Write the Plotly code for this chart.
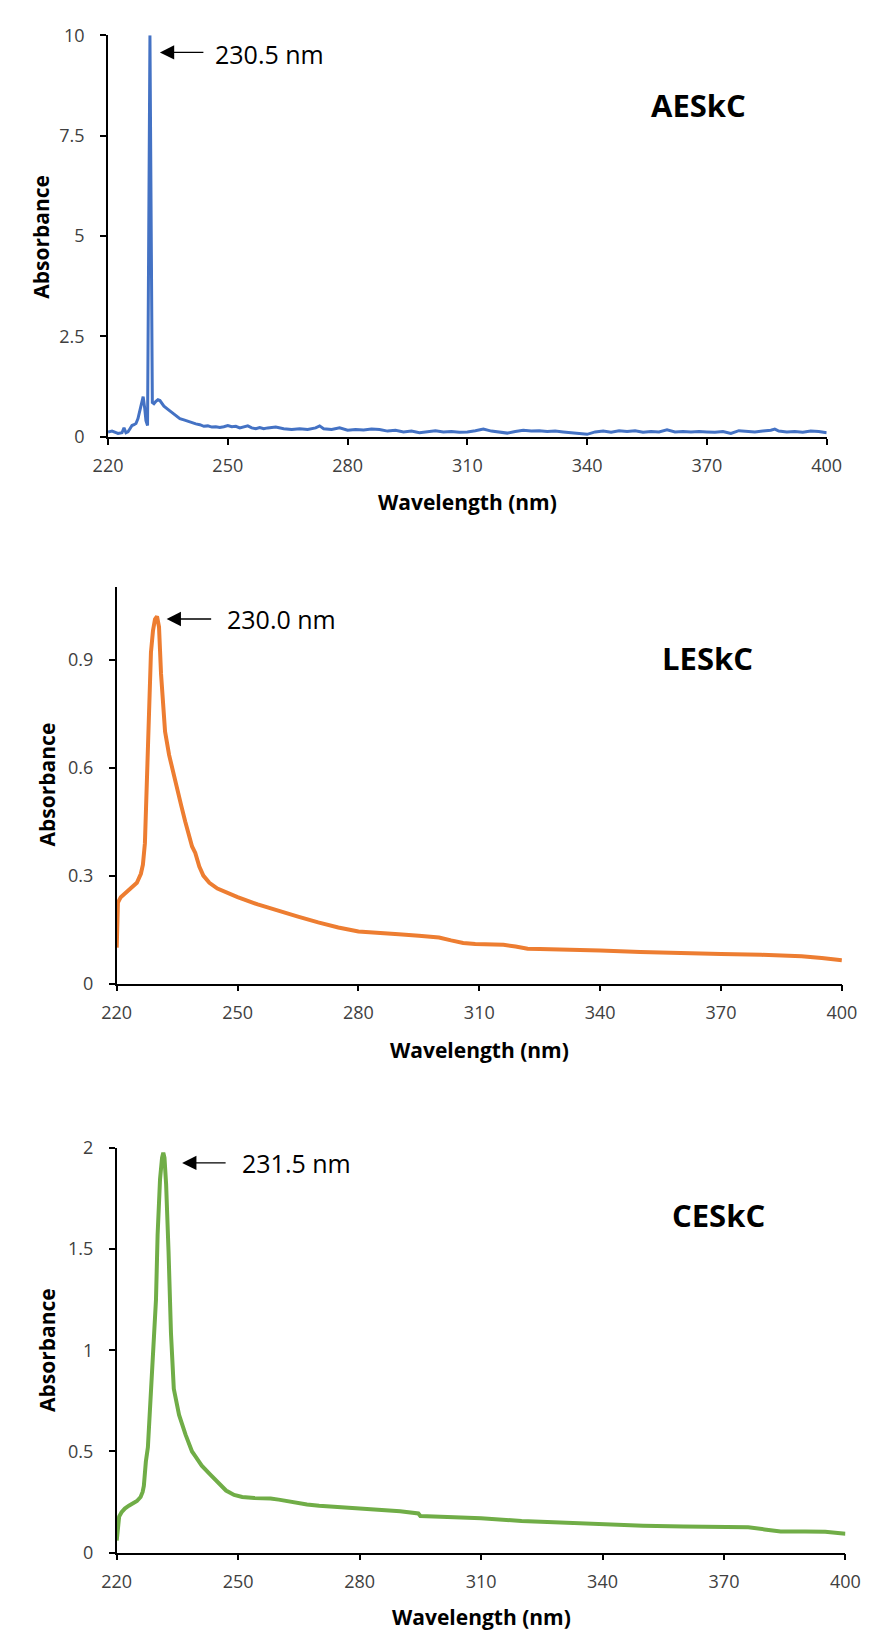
import plotly.graph_objects as go

# ---------------- data ----------------
x_ticks = [220, 250, 280, 310, 340, 370, 400]

wl_aeskc = [220, 221, 222, 222.5, 223.5, 224, 224.5, 225, 225.5, 226, 226.5, 227, 227.5, 228, 228.5,
            228.8, 229.2, 229.5, 229.9, 230.5, 231.1, 231.5, 232, 232.5, 233, 233.5, 234, 235, 236,
            237, 238, 239, 240, 241, 242, 243, 244, 245, 246, 247, 248, 249, 250, 251, 252, 253, 254,
            255, 256, 257, 258, 259, 260, 262, 264, 266, 268, 270, 272, 273, 274, 276, 278, 280, 282,
            284, 286, 288, 290, 292, 294, 296, 298, 300, 302, 304, 306, 308, 310, 312, 314, 316, 318,
            320, 322, 324, 326, 328, 330, 332, 334, 336, 338, 340, 342, 344, 346, 348, 350, 352, 354,
            356, 358, 360, 362, 364, 366, 368, 370, 372, 374, 376, 378, 380, 382, 384, 386, 387, 388,
            390, 392, 394, 396, 398, 400]
abs_aeskc = [0.12, 0.14, 0.10, 0.08, 0.10, 0.22, 0.10, 0.12, 0.20, 0.28, 0.30, 0.33, 0.45, 0.68, 0.95,
             1.00, 0.70, 0.40, 0.28, 10.0, 0.85, 0.82, 0.88, 0.92, 0.90, 0.82, 0.76, 0.68, 0.60,
             0.52, 0.45, 0.42, 0.38, 0.36, 0.32, 0.30, 0.26, 0.27, 0.24, 0.25, 0.23, 0.25, 0.28, 0.25,
             0.26, 0.22, 0.24, 0.27, 0.22, 0.20, 0.23, 0.20, 0.22, 0.24, 0.20, 0.18, 0.20, 0.18, 0.22,
             0.27, 0.20, 0.18, 0.22, 0.16, 0.18, 0.17, 0.19, 0.18, 0.14, 0.16, 0.12, 0.14, 0.10, 0.13,
             0.15, 0.12, 0.13, 0.11, 0.12, 0.15, 0.19, 0.14, 0.12, 0.09, 0.13, 0.16, 0.14, 0.15, 0.13,
             0.14, 0.12, 0.10, 0.07, 0.06, 0.12, 0.14, 0.11, 0.15, 0.13, 0.15, 0.11, 0.13, 0.12, 0.17,
             0.12, 0.13, 0.12, 0.13, 0.12, 0.11, 0.13, 0.08, 0.15, 0.13, 0.12, 0.14, 0.16, 0.19, 0.14,
             0.12, 0.13, 0.11, 0.14, 0.13, 0.10]

wl_leskc = [220, 220.3, 221, 222, 223, 224, 225, 226, 226.5, 227, 227.5, 228, 228.5, 229, 229.5, 230,
            230.5, 231, 231.5, 232, 233, 234, 235, 236, 237, 238, 238.7, 239.5, 240.5, 241.5, 243,
            245, 247, 250, 255, 260, 265, 270, 275, 280, 285, 290, 295, 300, 303, 306, 309, 313, 316,
            319, 322, 325, 330, 340, 350, 360, 370, 380, 385, 390, 395, 400]
abs_leskc = [0.10, 0.225, 0.24, 0.25, 0.258, 0.268, 0.28, 0.305, 0.33, 0.39, 0.57, 0.79, 0.92, 0.98,
             1.012, 1.02, 0.99, 0.86, 0.76, 0.70, 0.635, 0.585, 0.54, 0.495, 0.45, 0.405, 0.381, 0.363,
             0.325, 0.30, 0.28, 0.264, 0.254, 0.24, 0.22, 0.202, 0.186, 0.17, 0.156, 0.145, 0.14, 0.137,
             0.133, 0.128, 0.12, 0.113, 0.11, 0.11, 0.108, 0.103, 0.097, 0.096, 0.095, 0.092, 0.088,
             0.084, 0.082, 0.08, 0.079, 0.076, 0.071, 0.065]

wl_ceskc = [220, 220.3, 220.6, 221.2, 222, 223, 224, 225, 225.9, 226.4, 226.7, 227, 227.2, 227.7, 228.2,
            228.7, 229.2, 229.7, 230.1, 230.7, 231.2, 231.5, 231.8, 232.2, 232.8, 233.4, 234.1, 235.4,
            237, 238.2, 238.6, 239.4, 241, 243, 245, 247, 249, 251, 254, 258, 260, 263, 267, 270, 275,
            280, 285, 290, 294.5, 295, 300, 310, 320, 330, 340, 350, 360, 370, 376, 380, 384, 390,
            395, 400]
abs_ceskc = [0.06, 0.15, 0.178, 0.20, 0.218, 0.232, 0.243, 0.255, 0.275, 0.30, 0.33, 0.42, 0.45, 0.52,
             0.70, 0.874, 1.00, 1.25, 1.57, 1.845, 1.95, 1.975, 1.95, 1.82, 1.488, 1.084, 0.809, 0.68,
             0.583, 0.518, 0.50, 0.477, 0.43, 0.388, 0.345, 0.307, 0.285, 0.275, 0.27, 0.268, 0.262,
             0.25, 0.238, 0.232, 0.226, 0.22, 0.212, 0.205, 0.194, 0.181, 0.178, 0.17, 0.157, 0.149,
             0.14, 0.133, 0.129, 0.127, 0.126, 0.115, 0.105, 0.105, 0.103, 0.094]

panels = [
    dict(name="AESkC", peak="230.5 nm", wl=wl_aeskc, ab=abs_aeskc, color="#4472C4", width=3,
         yticks=[0, 2.5, 5, 7.5, 10], yrange=[0, 10]),
    dict(name="LESkC", peak="230.0 nm", wl=wl_leskc, ab=abs_leskc, color="#ED7D31", width=4,
         yticks=[0, 0.3, 0.6, 0.9], yrange=[0, 1.1]),
    dict(name="CESkC", peak="231.5 nm", wl=wl_ceskc, ab=abs_ceskc, color="#70AD47", width=4,
         yticks=[0, 0.5, 1, 1.5, 2], yrange=[0, 2]),
]

# ---------------- layout geometry (pixels) ----------------
W, H = 882, 1644
geo = [
    dict(x0=96.3, x1=840.3, ytop=22.7, ybot=430, ytitle=(27, 227), xtitle=(468, 496),
         arrow=(150, 40, 195), text=(205, 42), label=(708, 93)),
    dict(x0=105.3, x1=856, ytop=583, ybot=985, ytitle=(33, 783), xtitle=(481, 1052),
         arrow=(157, 615, 203), text=(217, 615), label=(717, 655)),
    dict(x0=105.3, x1=859.7, ytop=1151.5, ybot=1562.5, ytitle=(33, 1357), xtitle=(483, 1628),
         arrow=(173, 1167, 218), text=(233, 1167), label=(728, 1220)),
]

FONT = "Open Sans"
fig = go.Figure()
annotations = []
layout = dict(width=W, height=H, margin=dict(l=0, r=0, t=0, b=0),
              paper_bgcolor="white", plot_bgcolor="white", showlegend=False)

for i, (p, g) in enumerate(zip(panels, geo)):
    k = "" if i == 0 else str(i + 1)
    fig.add_trace(go.Scatter(x=p["wl"], y=p["ab"], mode="lines",
                             line=dict(color=p["color"], width=p["width"]),
                             xaxis="x" + k, yaxis="y" + k))
    common = dict(showline=True, linecolor="black", linewidth=1.6, ticks="outside", ticklen=6,
                  tickwidth=1.6, tickcolor="black", showgrid=False, zeroline=False,
                  tickfont=dict(family=FONT, size=18, color="#404040"))
    layout["xaxis" + k] = dict(common, domain=[g["x0"] / W, g["x1"] / W], range=[220, 400],
                               tickvals=x_ticks, anchor="y" + k, ticklabelstandoff=6)
    layout["yaxis" + k] = dict(common, domain=[1 - g["ybot"] / H, 1 - g["ytop"] / H],
                               range=p["yrange"], tickvals=p["yticks"],
                               ticktext=[f"{v:g}" for v in p["yticks"]], anchor="x" + k,
                               ticklabelstandoff=12)
    # axis titles
    annotations.append(dict(text="<b>Absorbance</b>", textangle=-90, xref="paper", yref="paper",
                            x=g["ytitle"][0] / W, y=1 - g["ytitle"][1] / H, showarrow=False,
                            xanchor="center", yanchor="middle",
                            font=dict(family=FONT, size=21, color="black")))
    annotations.append(dict(text="<b>Wavelength (nm)</b>", xref="paper", yref="paper",
                            x=g["xtitle"][0] / W, y=1 - g["xtitle"][1] / H, showarrow=False,
                            xanchor="center", yanchor="middle",
                            font=dict(family=FONT, size=21, color="black")))
    # arrow
    ax_px, ay_px, tail_px = g["arrow"]
    annotations.append(dict(text="", xref="paper", yref="paper", x=ax_px / W, y=1 - ay_px / H,
                            showarrow=True, ax=tail_px - ax_px, ay=0, axref="pixel", ayref="pixel",
                            arrowhead=2, arrowsize=2.2, arrowwidth=1.3, arrowcolor="black"))
    annotations.append(dict(text=p["peak"], xref="paper", yref="paper", x=g["text"][0] / W,
                            y=1 - g["text"][1] / H, xanchor="left", yanchor="middle",
                            showarrow=False, font=dict(family=FONT, size=25, color="black")))
    annotations.append(dict(text="<b>" + p["name"] + "</b>", xref="paper", yref="paper",
                            x=g["label"][0] / W, y=1 - g["label"][1] / H, xanchor="center",
                            yanchor="middle", showarrow=False,
                            font=dict(family=FONT, size=31, color="black")))

layout["annotations"] = annotations
fig.update_layout(**layout)
fig.write_html("out.html", post_script="document.body.style.margin='0';document.body.style.overflow='hidden';")
